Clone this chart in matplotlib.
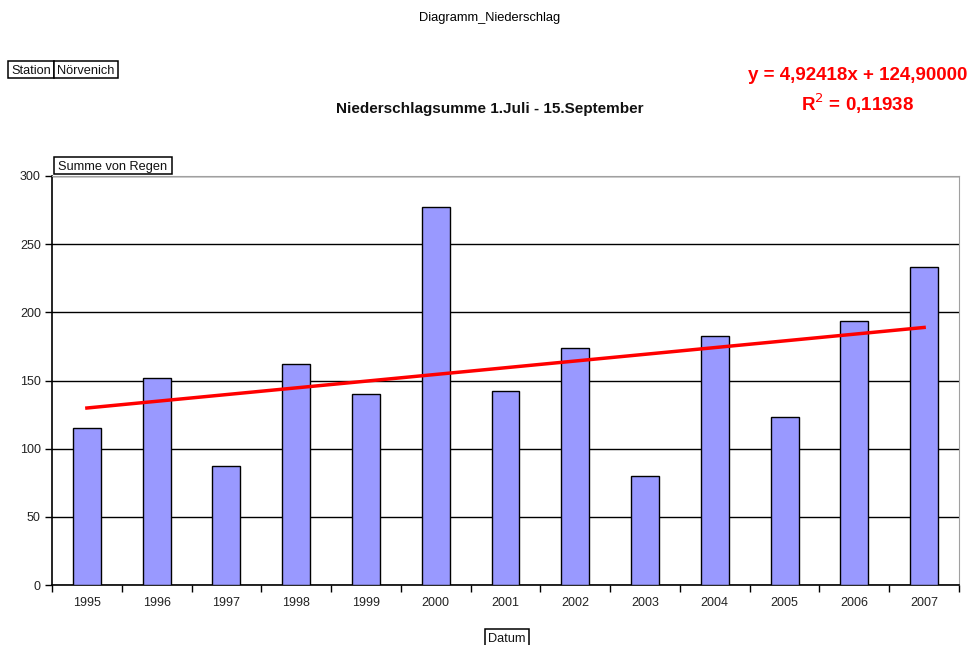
import matplotlib.pyplot as plt
from matplotlib.patches import Rectangle
import numpy as np

plt.rcParams['font.family'] = ['Liberation Sans', 'DejaVu Sans']

# data
years = ["1995", "1996", "1997", "1998", "1999", "2000", "2001",
         "2002", "2003", "2004", "2005", "2006", "2007"]
regen = [115, 152, 87, 162, 140, 277, 142, 174, 80, 183, 123, 194, 233]

# trendline coefficients as printed on the chart
slope = 4.92418
intercept = 124.90000
r2 = 0.11938

W, H = 970, 645
fig = plt.figure(figsize=(W / 100, H / 100), dpi=100)
ax = fig.add_axes([52 / W, 1 - 585 / H, (959 - 52) / W, (585 - 176) / H])

x = np.arange(len(years))
ax.bar(x, regen, width=0.4, color='#9999ff', edgecolor='black', linewidth=1, zorder=3)

# linear trend (x = 1..n like Excel)
xt = np.arange(1, len(years) + 1)
ax.plot(x, slope * xt + intercept, color='#ff0000', linewidth=2.5, zorder=4)

ax.set_xlim(-0.5, len(years) - 0.5)
ax.set_ylim(0, 300)
ax.set_yticks(range(0, 301, 50))
ax.set_xticks(x)
ax.set_xticklabels(years)
ax.set_xticks(np.arange(-0.5, len(years), 1), minor=True)
ax.tick_params(axis='x', which='major', length=0, pad=9, labelsize=9, labelcolor='#222222')
ax.tick_params(axis='x', which='minor', length=5, width=1, direction='out')
ax.tick_params(axis='y', length=5, width=1, labelsize=9, pad=3, labelcolor='#222222')
ax.yaxis.grid(True, color='black', linewidth=1, zorder=0)
ax.set_axisbelow(True)

for side in ['top', 'right']:
    ax.spines[side].set_color('#a0a0a0')
ax.spines['left'].set_linewidth(1.2)
ax.spines['bottom'].set_linewidth(1.2)


def boxed(x0, y0, x1, y1, text):
    # box in pixel coords (top-left origin), text centred inside
    fig.add_artist(Rectangle((x0 / W, 1 - y1 / H), (x1 - x0) / W, (y1 - y0) / H,
                             transform=fig.transFigure, facecolor='white',
                             edgecolor='black', linewidth=1.1))
    fig.text((x0 + x1) / 2 / W, 1 - (y0 + y1) / 2 / H, text,
             ha='center', va='center_baseline', fontsize=9.2, color='#111111')


fig.text(490 / W, 1 - 16 / H, "Diagramm_Niederschlag", ha='center',
         va='center_baseline', fontsize=9.3)
fig.text(490 / W, 1 - 107 / H, "Niederschlagsumme 1.Juli - 15.September",
         ha='center', va='center_baseline', fontsize=11, fontweight='bold', color='#111111')
boxed(8, 61, 54, 78, "Station")
boxed(54, 61, 118, 78, "Nörvenich")
fig.text(858 / W, 1 - 74 / H,
         "y = {:.5f}x + {:.5f}".format(slope, intercept).replace('.', ','),
         ha='center', va='center_baseline', fontsize=13.5, fontweight='bold', color='#ff0000')
fig.text(858 / W, 1 - 101 / H,
         "R$^2$ = {:.5f}".format(r2).replace('.', ','),
         ha='center', va='center_baseline', fontsize=13.5, fontweight='bold', color='#ff0000')
boxed(54, 157, 172, 174, "Summe von Regen")
boxed(485, 629, 529, 646, "Datum")

fig.savefig('out.png', dpi=100)
